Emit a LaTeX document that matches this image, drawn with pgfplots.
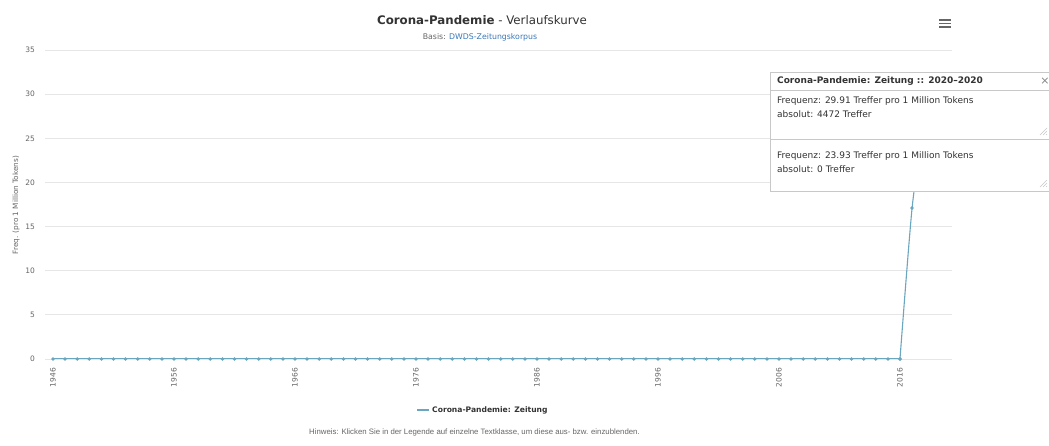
\documentclass[border=0pt]{standalone}
\usepackage{pgfplots}
\pgfplotsset{compat=1.18}
\usepackage{fontspec}
\setmainfont{DejaVu Sans}
\newfontfamily\arialfont{Liberation Sans}
\usetikzlibrary{shadows}

\definecolor{serie}{HTML}{6AA7BF}
\definecolor{labelc}{HTML}{666666}
\definecolor{titlec}{HTML}{333333}
\definecolor{gridc}{HTML}{E6E6E6}
\definecolor{linkc}{HTML}{3A78B8}
\definecolor{boxc}{HTML}{C8C8C8}

\begin{document}
\begin{tikzpicture}
\useasboundingbox[fill=white] (0,0) rectangle (1049pt,446pt);

% Pixelkoordinaten der Vorlage: y nach unten, Ursprung oben links
\begin{axis}[
  at={(45pt,87pt)}, anchor=south west,
  width=907pt, height=309pt, scale only axis,
  xmin=1945.34, xmax=2020.3,
  ymin=0, ymax=35,
  xtick={1946,1956,...,2016},
  ytick={0,5,...,35},
  ymajorgrids,
  grid style={draw=gridc, line width=0.8pt},
  axis line style={draw=none},
  major tick length=0pt,
  tick label style={font=\fontsize{7.5}{9}\selectfont, text=labelc, inner sep=0pt},
  yticklabel shift=10pt,
  xticklabel shift=9pt,
  xticklabel style={rotate=90, anchor=east},
  /pgf/number format/assume math mode=true,
  /pgf/number format/1000 sep={},
]
% Frequenz pro 1 Million Tokens, 1946-2016 flach bei 0
\addplot[serie, line width=1.1pt, sharp plot, mark=*, mark size=1.1pt,
  mark options={fill=serie, draw=serie}] coordinates {
  (1946,0) (1947,0) (1948,0) (1949,0) (1950,0) (1951,0) (1952,0) (1953,0)
  (1954,0) (1955,0) (1956,0) (1957,0) (1958,0) (1959,0) (1960,0) (1961,0)
  (1962,0) (1963,0) (1964,0) (1965,0) (1966,0) (1967,0) (1968,0) (1969,0)
  (1970,0) (1971,0) (1972,0) (1973,0) (1974,0) (1975,0) (1976,0) (1977,0)
  (1978,0) (1979,0) (1980,0) (1981,0) (1982,0) (1983,0) (1984,0) (1985,0)
  (1986,0) (1987,0) (1988,0) (1989,0) (1990,0) (1991,0) (1992,0) (1993,0)
  (1994,0) (1995,0) (1996,0) (1997,0) (1998,0) (1999,0) (2000,0) (2001,0)
  (2002,0) (2003,0) (2004,0) (2005,0) (2006,0) (2007,0) (2008,0) (2009,0)
  (2010,0) (2011,0) (2012,0) (2013,0) (2014,0) (2015,0) (2016,0)
};
% Anstieg ab 2016 (ab 2018 vom Tooltip verdeckt)
\addplot[serie, line width=1.1pt, smooth, tension=0.4, mark=*, mark size=1.1pt,
  mark options={fill=serie, draw=serie}] coordinates {
  (2016,0) (2017,17.1) (2018,26.5) (2019,29.0) (2020,29.91)
};
\end{axis}

\begin{scope}[x=1pt, y=-1pt, yshift=446pt]
% Titel
\node[text=titlec, font=\fontsize{11.8}{14}\selectfont] at (482,20)
  {{\bfseries Corona-Pandemie} - Verlaufskurve};
\node[font=\fontsize{7.8}{9}\selectfont] at (480,37)
  {\textcolor{labelc}{Basis:} \textcolor{linkc}{DWDS-Zeitungskorpus}};

% Menue
\foreach \yy in {20,23.5,27}
  \draw[line width=1.5pt, labelc] (939,\yy) -- (951,\yy);

% y-Achsentitel
\node[rotate=90, text=labelc, font=\fontsize{7.3}{9}\selectfont] at (16,205)
  {Freq. (pro 1 Million Tokens)};

% Legende
\draw[serie, line width=1.1pt] (417,410) -- (429,410);
\fill[serie] (423,410) circle (1.1pt);
\node[anchor=west, inner sep=0pt, text=titlec, font=\bfseries\fontsize{7.6}{9}\selectfont]
  at (432,410) {Corona-Pandemie: Zeitung};

% Hinweis
\node[anchor=west, inner sep=0pt, text=labelc, font=\arialfont\fontsize{7.8}{9}\selectfont]
  at (309,432) {Hinweis: Klicken Sie in der Legende auf einzelne Textklasse, um diese aus- bzw. einzublenden.};

% Tooltip 2 (unten)
\filldraw[fill=white, draw=boxc, line width=0.6pt,
  drop shadow={shadow xshift=0.5pt, shadow yshift=-1.5pt, opacity=0.3}]
  (770,139) rectangle (1062,191);
\node[anchor=west, inner sep=0pt, text=titlec, font=\fontsize{9}{11}\selectfont]
  at (777,156) {Frequenz: 23.93 Treffer pro 1 Million Tokens};
\node[anchor=west, inner sep=0pt, text=titlec, font=\fontsize{9}{11}\selectfont]
  at (777,169) {absolut: 0 Treffer};
\foreach \d in {0,3,6}
  \draw[boxc, line width=0.5pt] (1040+\d,187) -- (1047,180+\d);

% Tooltip 1 (oben)
\filldraw[fill=white, draw=boxc, line width=0.6pt,
  drop shadow={shadow xshift=0.5pt, shadow yshift=-1.5pt, opacity=0.3}]
  (770,72) rectangle (1062,139);
\draw[boxc, line width=0.6pt] (770,90) -- (1062,90);
\node[anchor=west, inner sep=0pt, text=titlec, font=\bfseries\fontsize{9}{11}\selectfont]
  at (777,81.5) {Corona-Pandemie: Zeitung :: 2020–2020};
\node[text=labelc!80, font=\fontsize{11}{12}\selectfont] at (1045,81) {×};
\node[anchor=west, inner sep=0pt, text=titlec, font=\fontsize{9}{11}\selectfont]
  at (777,101) {Frequenz: 29.91 Treffer pro 1 Million Tokens};
\node[anchor=west, inner sep=0pt, text=titlec, font=\fontsize{9}{11}\selectfont]
  at (777,114) {absolut: 4472 Treffer};
\foreach \d in {0,3,6}
  \draw[boxc, line width=0.5pt] (1040+\d,135) -- (1047,128+\d);
\end{scope}
\end{tikzpicture}
\end{document}
